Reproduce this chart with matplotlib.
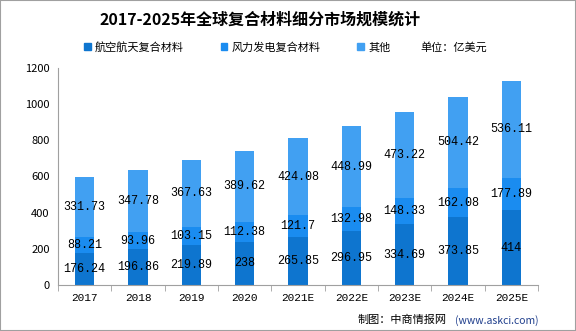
import matplotlib.pyplot as plt
import matplotlib.patches as mpatches
import numpy as np

plt.rcParams['font.family'] = ['Noto Sans CJK SC', 'DejaVu Sans']

years = ['2017', '2018', '2019', '2020', '2021E', '2022E', '2023E', '2024E', '2025E']
aero = [176.24, 196.86, 219.89, 238, 265.85, 296.95, 334.69, 373.85, 414]
wind = [88.21, 93.96, 103.15, 112.38, 121.7, 132.98, 148.33, 162.08, 177.89]
other = [331.73, 347.78, 367.63, 389.62, 424.08, 448.99, 473.22, 504.42, 536.11]
names = ['航空航天复合材料', '风力发电复合材料', '其他']
colors = ['#0E75CF', '#1A8CF0', '#41A0F2']

fig = plt.figure(figsize=(5.76, 3.31), dpi=100)
ax = fig.add_axes([58 / 576, 46 / 331, 480 / 576, 217 / 331])

x = np.arange(len(years))
bottom = np.zeros(len(years))
for vals, c, n in zip([aero, wind, other], colors, names):
    vals = np.array(vals, dtype=float)
    ax.bar(x, vals, 0.36, bottom=bottom, color=c, label=n)
    for xi, b, v in zip(x, bottom, vals):
        ax.text(xi, b + v / 2, f'{v:g}', ha='center', va='center',
                fontsize=8.5, family='Liberation Mono', color='black')
    bottom += vals

ax.set_xlim(-0.5, len(years) - 0.5)
ax.set_ylim(0, 1200)
ax.set_yticks(range(0, 1201, 200))
ax.tick_params(axis='y', length=0, labelsize=8, pad=6)
ax.set_xticks(x)
ax.set_xticklabels(years, fontsize=8, family='Liberation Mono')
ax.tick_params(axis='x', length=0, pad=6)
ax.set_xticks(np.arange(-0.5, len(years)), minor=True)
ax.tick_params(axis='x', which='minor', length=4, color='#A0A0A0')
for s in ['top', 'right']:
    ax.spines[s].set_visible(False)
for s in ['left', 'bottom']:
    ax.spines[s].set_color('#A0A0A0')

# 标题
fig.text(0.452, 0.94, '2017-2025年全球复合材料细分市场规模统计', ha='center', va='center',
         fontsize=11.5, fontweight='bold')

# 图例
handles = [mpatches.Patch(color=c, label=n) for c, n in zip(colors, names)]
fig.legend(handles=handles, loc='center', bbox_to_anchor=(0.412, 0.858), ncol=3,
           frameon=False, fontsize=8, handlelength=0.6, handleheight=0.6,
           handletextpad=0.4, columnspacing=3.3)
fig.text(0.729, 0.858, '单位：亿美元', ha='left', va='center', fontsize=8)

# 来源
fig.text(0.62, 0.033, '制图：中商情报网', ha='left', va='center', fontsize=8)
fig.text(0.79, 0.033, '(www.askci.com)', ha='left', va='center', fontsize=7.5,
         color='#1F3E8C')

fig.patches.append(mpatches.Rectangle((0, 0), 1, 1, transform=fig.transFigure,
                                      fill=False, edgecolor='#A0A0A0', linewidth=1.5))

fig.savefig('out.png', dpi=100)
